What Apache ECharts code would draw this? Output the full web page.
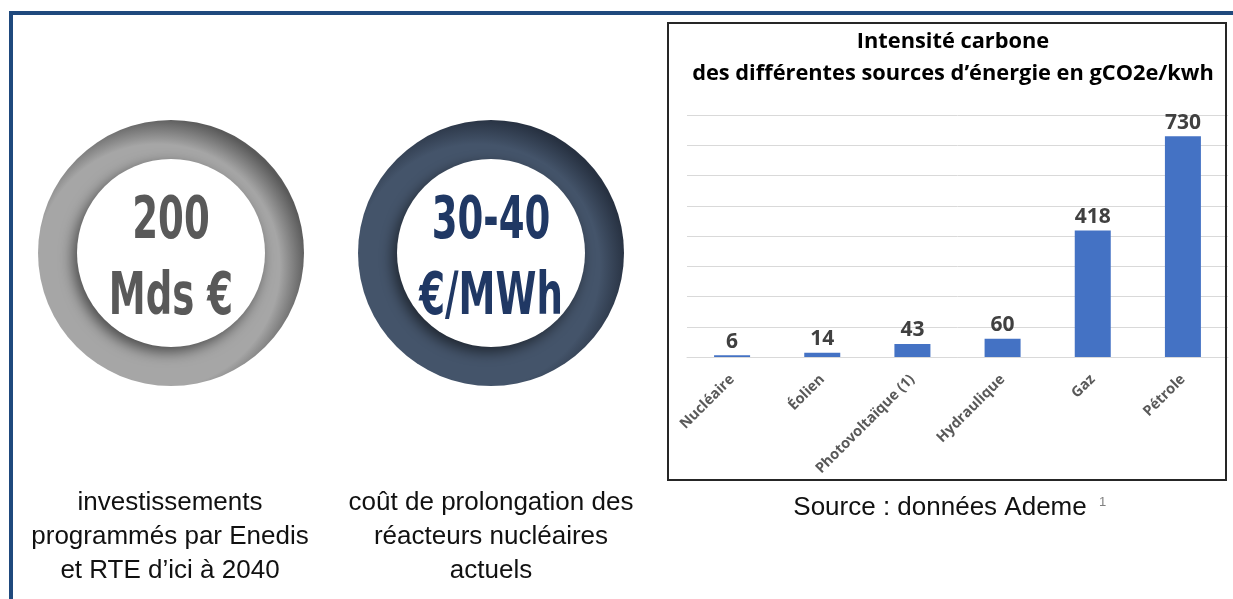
<!DOCTYPE html>
<html>
<head>
<meta charset="utf-8">
<script src="https://cdn.jsdelivr.net/npm/echarts@6/dist/echarts.min.js"></script>
<style>
  html, body { margin: 0; padding: 0; background: #fff; }
  #main { width: 1233px; height: 599px; }
</style>
</head>
<body>
<div id="main"></div>
<script>
// données du graphique (gCO2e/kwh)
var categories = ['Nucléaire', 'Éolien', 'Photovoltaïque (1)', 'Hydraulique', 'Gaz', 'Pétrole'];
var intensite = [6, 14, 43, 60, 418, 730];
var yTicks = [0, 100, 200, 300, 400, 500, 600, 700, 800];

// textes des anneaux
var anneau1 = ['200', 'Mds €'];
var anneau2 = ['30-40', '€/MWh'];
var legende1 = ['investissements', 'programmés par Enedis', 'et RTE d’ici à 2040'];
var legende2 = ['coût de prolongation des', 'réacteurs nucléaires', 'actuels'];

var chart = echarts.init(document.getElementById('main'));

// anneau avec ombre
function ring(cx, cy, base, dark) {
    return [
        {
            type: 'circle', z: 1,
            shape: { cx: cx, cy: cy, r: 133 },
            style: {
                fill: new echarts.graphic.RadialGradient(0.45, 0.55, 0.56, [
                    { offset: 0, color: base },
                    { offset: 0.82, color: base },
                    { offset: 1, color: dark }
                ])
            }
        },
        {
            type: 'circle', z: 2,
            shape: { cx: cx, cy: cy, r: 94 },
            style: {
                fill: '#fff',
                shadowBlur: 14,
                shadowOffsetX: -4,
                shadowOffsetY: 5,
                shadowColor: 'rgba(0,0,0,0.55)'
            }
        }
    ];
}

function ringText(cx, lines, color) {
    return lines.map(function (t, i) {
        return {
            type: 'text', z: 3,
            x: cx, y: 223 + i * 76,
            scaleX: 0.64,
            style: {
                text: t,
                font: 'bold 58px "DejaVu Sans"',
                fill: color,
                align: 'center',
                verticalAlign: 'middle'
            }
        };
    });
}

function caption(cx, lines) {
    return {
        type: 'text', z: 3,
        x: cx, y: 486,
        style: {
            text: lines.join('\n'),
            font: '26px "Liberation Sans"',
            lineHeight: 34,
            fill: '#111',
            align: 'center',
            verticalAlign: 'top'
        }
    };
}

var graphics = [
    // cadre bleu
    {
        type: 'polyline', z: 5,
        shape: { points: [[11, 599], [11, 13], [1233, 13]] },
        style: { stroke: '#1F497D', lineWidth: 4, fill: null }
    },
    // cadre du graphique
    {
        type: 'rect', z: 100,
        shape: { x: 668, y: 23, width: 558, height: 457 },
        style: { stroke: '#262626', lineWidth: 2, fill: null }
    },
    caption(170, legende1),
    caption(491, legende2),
    {
        type: 'text', z: 3,
        x: 940, y: 495,
        style: {
            text: 'Source : données Ademe',
            font: '26px "Liberation Sans"',
            fill: '#111',
            align: 'center',
            verticalAlign: 'top'
        }
    },
    {
        type: 'text', z: 3,
        x: 1099, y: 496,
        style: { text: '1', font: '13px "Liberation Sans"', fill: '#808080', align: 'left', verticalAlign: 'top' }
    }
].concat(ring(171, 253, '#A6A6A6', '#5a5a5a'))
 .concat(ring(491, 253, '#44546A', '#273141'))
 .concat(ringText(171, anneau1, '#595959'))
 .concat(ringText(491, anneau2, '#203864'));

var option = {
    animation: false,
    title: {
        text: 'Intensité carbone\ndes différentes sources d’énergie en gCO2e/kwh',
        left: 948,
        top: 21,
        textAlign: 'center',
        textStyle: {
            fontFamily: 'Open Sans',
            fontSize: 21.8,
            fontWeight: 'bold',
            color: '#000',
            lineHeight: 32
        }
    },
    grid: { left: 687, top: 115, width: 541, height: 242 },
    xAxis: {
        type: 'category',
        data: categories,
        axisLine: { lineStyle: { color: '#d9d9d9' } },
        axisTick: { show: false },
        axisLabel: {
            rotate: 45,
            margin: 20,
            interval: 0,
            fontFamily: 'Open Sans',
            fontSize: 14.5,
            fontWeight: 'bold',
            color: '#595959'
        }
    },
    yAxis: {
        type: 'value',
        min: yTicks[0],
        max: yTicks[yTicks.length - 1],
        interval: yTicks[1] - yTicks[0],
        axisLabel: { show: false },
        axisLine: { show: false },
        axisTick: { show: false },
        splitLine: { lineStyle: { color: '#d9d9d9' } }
    },
    series: [
        {
            type: 'bar',
            data: intensite,
            barWidth: 36,
            itemStyle: { color: '#4472C4' },
            label: {
                show: true,
                position: 'top',
                distance: 3,
                fontFamily: 'Open Sans',
                fontSize: 21,
                fontWeight: 'bold',
                color: '#404040'
            }
        }
    ],
    graphic: graphics
};

chart.setOption(option);
</script>
</body>
</html>
